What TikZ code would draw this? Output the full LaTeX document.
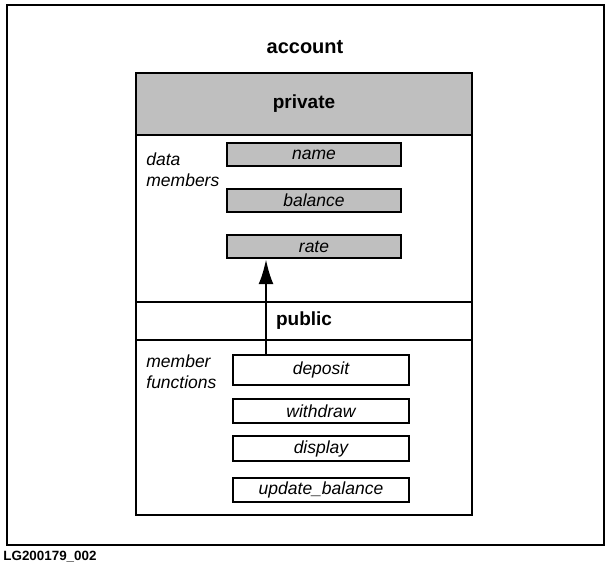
\documentclass[tikz,border=0pt]{standalone}
\usepackage{fontspec}
\setmainfont{Liberation Sans}
\usetikzlibrary{arrows.meta}
\tikzset{
  sect/.style = {draw, line width=1.3pt, minimum width=168pt, inner sep=0pt, font=\fontsize{9.5}{11}\selectfont\bfseries},
  mbox/.style = {draw, line width=1.2pt, inner sep=0pt, font=\fontsize{8.75}{10}\selectfont\itshape},
  shade/.style = {fill=black!25},
  lbl/.style = {anchor=west, align=left, inner sep=0pt, font=\fontsize{8.75}{10.5}\selectfont\itshape}
}
\begin{document}
\begin{tikzpicture}[x=0.5pt, y=-0.5pt]
\useasboundingbox (0,0) rectangle (610,569);
\draw[line width=1.4pt] (7,5) rectangle (604,545);
\node[font=\fontsize{10}{12}\selectfont\bfseries] (acc) at (305,47) {account};
\node[sect, shade, minimum height=31pt] (priv) at (304,104) {private};
\node[sect, minimum height=83.5pt] (dm) at (304,218.5) {};
\node[sect, minimum height=19pt] (pub) at (304,321) {public};
\node[sect, minimum height=87.5pt] (mf) at (304,427.5) {};
\node[lbl] (dlbl) at (146,170) {data\\members};
\node[lbl] (flbl) at (146,372) {member\\functions};
\node[mbox, shade, minimum width=87pt, minimum height=11.5pt] (name) at (314,154.5) {name};
\node[mbox, shade, minimum width=87pt, minimum height=11.5pt] (bal) at (314,200.5) {balance};
\node[mbox, shade, minimum width=87pt, minimum height=11.5pt] (rate) at (314,246.5) {rate};
\node[mbox, minimum width=88pt, minimum height=15pt] (dep) at (321,370) {deposit};
\node[mbox, minimum width=88pt, minimum height=12pt] (wd) at (321,411) {withdraw};
\node[mbox, minimum width=88pt, minimum height=12.5pt] (disp) at (321,448.5) {display};
\node[mbox, minimum width=88pt, minimum height=12pt] (upd) at (321,490) {update\_balance};
\coordinate (ax) at (266,0);
\draw[line width=1.2pt, -{Latex[length=12.5pt, width=7.5pt]}] (ax |- dep.north) -- (ax |- rate.south);
\node[anchor=west, inner sep=0pt, font=\fontsize{6.7}{8}\selectfont\bfseries] (tag) at (3,557) {LG200179\_002};
\end{tikzpicture}
\end{document}
